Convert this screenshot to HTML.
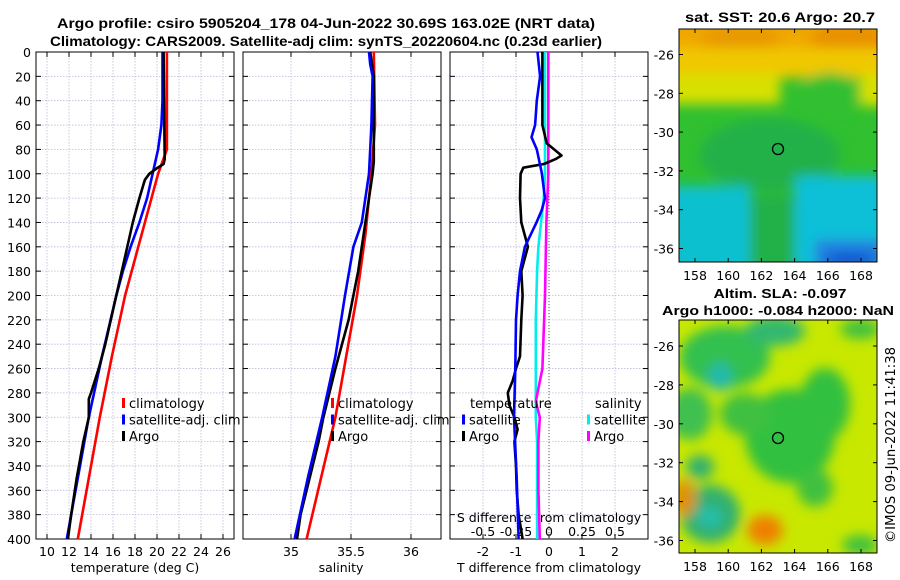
<!DOCTYPE html>
<html><head><meta charset="utf-8"><style>
body{margin:0;background:#fff;width:900px;height:580px;overflow:hidden}
svg{display:block}
text{font-family:"DejaVu Sans","Liberation Sans",sans-serif;fill:#000}
.t{font-family:"Liberation Sans Narrow","Liberation Sans",sans-serif;font-weight:bold;font-size:14px}
.tk{font-size:12.5px}
.lg{font-size:13px}
</style></head><body>
<svg id="c" width="900" height="580" viewBox="0 0 900 580">
<defs>
<filter id="bl" x="-20%" y="-20%" width="140%" height="140%"><feGaussianBlur stdDeviation="6"/></filter>
<clipPath id="m1"><rect x="679" y="29" width="198" height="233"/></clipPath>
<clipPath id="m2"><rect x="679" y="320" width="198" height="233"/></clipPath>
</defs>
<text class="t" x="326" y="28" text-anchor="middle" textLength="538" lengthAdjust="spacingAndGlyphs">Argo profile: csiro 5905204_178 04-Jun-2022 30.69S 163.02E (NRT data)</text>
<text class="t" x="326" y="46" text-anchor="middle" textLength="552" lengthAdjust="spacingAndGlyphs">Climatology: CARS2009. Satellite-adj clim: synTS_20220604.nc (0.23d earlier)</text>
<text class="t" x="780" y="22" text-anchor="middle" textLength="190" lengthAdjust="spacingAndGlyphs">sat. SST: 20.6 Argo: 20.7</text>
<text class="t" x="780" y="298" text-anchor="middle" textLength="133" lengthAdjust="spacingAndGlyphs" style="font-size:13px">Altim. SLA: -0.097</text>
<text class="t" x="778" y="315" text-anchor="middle" textLength="232" lengthAdjust="spacingAndGlyphs" style="font-size:13px">Argo h1000: -0.084 h2000: NaN</text>
<g id="plots"></g>
<!-- SST map -->
<g clip-path="url(#m1)">
<rect x="679" y="29" width="198" height="233" fill="#30c030"/>
<g filter="url(#bl)">
<rect x="660" y="10" width="240" height="40" fill="#f0a800"/>
<ellipse cx="850" cy="38" rx="40" ry="14" fill="#e89000"/>
<ellipse cx="740" cy="38" rx="40" ry="12" fill="#e89800"/>
<rect x="660" y="48" width="240" height="30" fill="#f0c800"/>
<rect x="660" y="74" width="120" height="30" fill="#d8e000"/>
<rect x="860" y="74" width="40" height="32" fill="#d8e000"/>
<ellipse cx="830" cy="93" rx="30" ry="20" fill="#30c030"/>
<ellipse cx="770" cy="155" rx="70" ry="36" fill="#20b048"/>
<rect x="670" y="186" width="80" height="85" fill="#10c0d0"/>
<rect x="795" y="176" width="90" height="95" fill="#10c0d8"/>
<rect x="750" y="196" width="45" height="75" fill="#20b048"/>
<rect x="815" y="240" width="70" height="30" fill="#2080e0"/>
<ellipse cx="850" cy="260" rx="25" ry="7" fill="#1050d0"/>
</g>
</g>
<rect x="679" y="29" width="198" height="233" fill="none" stroke="#000"/>
<circle cx="778" cy="149" r="5.5" fill="none" stroke="#000" stroke-width="1.3"/>
<!-- SLA map -->
<g clip-path="url(#m2)">
<rect x="679" y="320" width="198" height="233" fill="#c8e800"/>
<g filter="url(#bl)">
<ellipse cx="725" cy="357" rx="45" ry="31" fill="#30c050"/>
<ellipse cx="720" cy="377" rx="12" ry="14" fill="#20b8b0"/>
<ellipse cx="775" cy="331" rx="30" ry="15" fill="#30b870"/>
<ellipse cx="860" cy="329" rx="20" ry="10" fill="#40c040"/>
<ellipse cx="790" cy="436" rx="45" ry="47" fill="#30c040"/>
<ellipse cx="825" cy="404" rx="25" ry="36" fill="#30c040"/>
<ellipse cx="690" cy="414" rx="22" ry="26" fill="#40c050"/>
<ellipse cx="745" cy="414" rx="25" ry="21" fill="#40c040"/>
<ellipse cx="710" cy="514" rx="30" ry="29" fill="#30b070"/>
<ellipse cx="710" cy="517" rx="12" ry="10" fill="#20c0b0"/>
<ellipse cx="700" cy="467" rx="14" ry="12" fill="#30b070"/>
<ellipse cx="684" cy="498" rx="12" ry="19" fill="#e09000"/>
<ellipse cx="765" cy="530" rx="18" ry="15" fill="#f08000"/>
<ellipse cx="815" cy="488" rx="18" ry="19" fill="#40c040"/>
<ellipse cx="860" cy="545" rx="18" ry="10" fill="#40c040"/>
</g>
</g>
<rect x="679" y="320" width="198" height="233" fill="none" stroke="#000"/>
<circle cx="778" cy="438" r="5.5" fill="none" stroke="#000" stroke-width="1.3"/>
<text x="895" y="543" transform="rotate(-90 895 543)" font-size="13" textLength="196" lengthAdjust="spacingAndGlyphs">©IMOS 09-Jun-2022 11:41:38</text>
</svg>
<script>
// ---- data ----
const depthTicks=[0,20,40,60,80,100,120,140,160,180,200,220,240,260,280,300,320,340,360,380,400];
const tempTicks=[10,12,14,16,18,20,22,24,26];
const salTicks=[35,35.5,36];
const tdTicks=[-2,-1,0,1,2];
const sdTicks=[-0.5,-0.25,0,0.25,0.5];
const sdTickLabels=["-0.5","-0.25","0","0.25","0.5"];
const tClimDepth=[0,80,90,100,120,150,200,250,300,350,400];
const tClimVal=[20.9,20.9,20.5,20.1,19.5,18.6,17.1,15.9,14.8,13.8,12.8];
const tSatDepth=[0,40,60,80,100,120,140,160,180,200,250,300,350,380,400];
const tSatVal=[20.5,20.5,20.4,20.1,19.6,19.1,18.4,17.6,16.9,16.3,15.0,13.8,12.8,12.2,11.8];
const tArgoDepth=[0,88,92,96,100,105,120,140,160,180,200,220,240,260,280,285,300,320,350,380,400];
const tArgoVal=[20.6,20.7,20.6,19.9,19.3,18.9,18.4,17.8,17.3,16.8,16.3,15.8,15.3,14.7,14.0,13.8,13.8,13.3,12.7,12.2,11.9];
const sClimDepth=[0,60,100,150,200,250,300,350,400];
const sClimVal=[35.69,35.70,35.67,35.62,35.55,35.46,35.37,35.25,35.13];
const sSatDepth=[0,10,20,60,100,120,140,160,200,250,300,350,400];
const sSatVal=[35.65,35.66,35.68,35.67,35.65,35.62,35.59,35.52,35.45,35.37,35.26,35.14,35.03];
const sArgoDepth=[0,20,90,100,140,180,220,260,300,320,360,380,400];
const sArgoVal=[35.66,35.69,35.69,35.68,35.62,35.56,35.48,35.37,35.27,35.23,35.13,35.08,35.05];
const dtSatDepth=[0,20,40,60,70,80,99,120,130,140,160,180,200,220,260,300,350,400];
const dtSatVal=[-0.35,-0.27,-0.37,-0.42,-0.53,-0.37,-0.22,-0.12,-0.22,-0.38,-0.73,-0.88,-0.95,-1.0,-1.02,-1.06,-0.98,-0.92];
const dtArgoDepth=[0,60,75,85,88,92,95,100,120,140,160,170,180,200,220,250,260,270,280,290,300,310,320,340,360,380,400];
const dtArgoVal=[-0.2,-0.2,-0.07,0.38,0.2,-0.15,-0.78,-0.86,-0.88,-0.84,-0.64,-0.74,-0.84,-0.8,-0.84,-0.88,-1.0,-1.1,-1.25,-1.2,-1.05,-0.95,-1.05,-1.0,-0.98,-0.92,-0.8];
const dsSatDepth=[0,100,120,140,160,180,220,260,300,320,360,400];
const dsSatVal=[-0.03,-0.03,-0.04,-0.06,-0.08,-0.09,-0.1,-0.1,-0.1,-0.09,-0.09,-0.09];
const dsArgoDepth=[0,100,140,200,260,287,300,320,360,400];
const dsArgoVal=[-0.005,-0.005,-0.02,-0.03,-0.05,-0.1,-0.07,-0.08,-0.08,-0.07];
const latTicks=[-26,-28,-30,-32,-34,-36];
const lonTicks=[158,160,162,164,166,168];

// ---- axes ----
const NS='http://www.w3.org/2000/svg';
const g=document.getElementById('plots');
const Y0=52,Y1=539;
const yD=d=>Y0+(d/400)*(Y1-Y0);
const xT=t=>47+(t-10)*11;
const xS=s=>291+(s-35)*120;
const xDT=d=>549+d*33;
const xDS=s=>549+s*132;
function el(tag,attrs,parent){const e=document.createElementNS(NS,tag);for(const k in attrs)e.setAttribute(k,attrs[k]);(parent||g).appendChild(e);return e;}
function txt(x,y,s,cls,anchor,parent){const e=el('text',{x:x,y:y,'class':cls,'text-anchor':anchor||'middle'},parent);e.textContent=s;return e;}
const panels=[{x:36,name:'temperature'},{x:243,name:'salinity'},{x:450,name:'difference'}];
const W=198;
panels.forEach((p,i)=>{
  const pg=el('g',{});
  
  
  depthTicks.forEach(d=>{
    const l=el('line',{x1:p.x,x2:p.x+W,y1:yD(d),y2:yD(d),stroke:'#b8bcd8','stroke-width':0.8,'stroke-dasharray':'1.5,1.5'},pg);
    
    
    el('line',{x1:p.x,x2:p.x+5,y1:yD(d),y2:yD(d),stroke:'#000'},pg);
    el('line',{x1:p.x+W-5,x2:p.x+W,y1:yD(d),y2:yD(d),stroke:'#000'},pg);
  });
  let xt,xf;
  if(i===0){xt=tempTicks;xf=xT;}else if(i===1){xt=salTicks;xf=xS;}else{xt=tdTicks;xf=xDT;}
  xt.forEach(v=>{
    const X=xf(v);
    const l=el('line',{x1:X,x2:X,y1:Y0,y2:Y1,stroke:'#b8bcd8','stroke-width':0.8,'stroke-dasharray':'1.5,1.5'},pg);
    
    
    el('line',{x1:X,x2:X,y1:Y0,y2:Y0+5,stroke:'#000'},pg);
    el('line',{x1:X,x2:X,y1:Y1-5,y2:Y1,stroke:'#000'},pg);
    const t=txt(X,556,String(v),'tk','middle',pg);
    
    
  });
  const fr=el('rect',{x:p.x,y:Y0,width:W,height:Y1-Y0,fill:'none',stroke:'#000','stroke-width':1},pg);
  
  
});
depthTicks.forEach(d=>{
  const t=txt(31,yD(d)+5,String(d),'tk','end');
  
  
});
let a=txt(135,572,'temperature (deg C)','tk');
a=txt(341,572,'salinity','tk');
a=txt(549,572,'T difference from climatology','tk');
a=txt(549,522,'S difference from climatology','tk');
sdTicks.forEach((v,k)=>{const t=txt(xDS(v),536,sdTickLabels[k],'tk');});
a=el('line',{x1:xDT(0),x2:xDT(0),y1:Y0,y2:Y1,stroke:'#555','stroke-dasharray':'1,2'});


function series(depths,vals,xf,color,name){
  const pts=depths.map((d,k)=>xf(vals[k]).toFixed(1)+','+yD(d).toFixed(1)).join(' ');
  const p=el('polyline',{points:pts,fill:'none',stroke:color,'stroke-width':2.6,'stroke-linejoin':'round'});
  
  
}
series(tClimDepth,tClimVal,xT,'#ff0000','temp-climatology-line');
series(tSatDepth,tSatVal,xT,'#0000ff','temp-satellite-line');
series(tArgoDepth,tArgoVal,xT,'#000','temp-argo-line');
series(sClimDepth,sClimVal,xS,'#ff0000','sal-climatology-line');
series(sArgoDepth,sArgoVal,xS,'#000','sal-argo-line');
series(sSatDepth,sSatVal,xS,'#0000ff','sal-satellite-line');
series(dsSatDepth,dsSatVal,xDS,'#00eeee','s-diff-satellite-line');
series(dsArgoDepth,dsArgoVal,xDS,'#ff00ff','s-diff-argo-line');
series(dtArgoDepth,dtArgoVal,xDT,'#000','t-diff-argo-line');
series(dtSatDepth,dtSatVal,xDT,'#0000ff','t-diff-satellite-line');

function legend(x,y,items){
  items.forEach((it,k)=>{
    const yy=y+k*16.5;
    if(it[1]){const m=el('rect',{x:x,y:yy-10,width:3,height:10,fill:it[1]});
    }
    const t=txt(x+(it[1]?7:0),yy,it[0],'lg','start');
    
  });
}
legend(122,408,[['climatology','#ff0000'],['satellite-adj. clim','#0000ff'],['Argo','#000']]);
legend(331,408,[['climatology','#ff0000'],['satellite-adj. clim','#0000ff'],['Argo','#000']]);
legend(470,408,[['temperature',null]]);
legend(462,424.5,[['satellite','#0000ff'],['Argo','#000']]);
legend(595,408,[['salinity',null]]);
legend(587,424.5,[['satellite','#00eeee'],['Argo','#ff00ff']]);

const svg=document.getElementById('c');
function mapAxes(y0,y1,latY,name){
  latTicks.forEach(v=>{
    const Y=latY(v);
    el('line',{x1:679,x2:683,y1:Y,y2:Y,stroke:'#000'},svg);
    el('line',{x1:873,x2:877,y1:Y,y2:Y,stroke:'#000'},svg);
    const t=txt(674,Y+5,String(v),'tk','end',svg);
    
  });
  lonTicks.forEach(v=>{
    const X=695+(v-158)*16.6;
    el('line',{x1:X,x2:X,y1:y1-4,y2:y1,stroke:'#000'},svg);
    el('line',{x1:X,x2:X,y1:y0,y2:y0+4,stroke:'#000'},svg);
    const t=txt(X,y1+18,String(v),'tk','middle',svg);
    
  });
}
mapAxes(29,262,v=>54.5+(-26-v)*19.4,'sst-map');
mapAxes(320,553,v=>346+(-26-v)*19.45,'sla-map');
</script>
</body></html>
